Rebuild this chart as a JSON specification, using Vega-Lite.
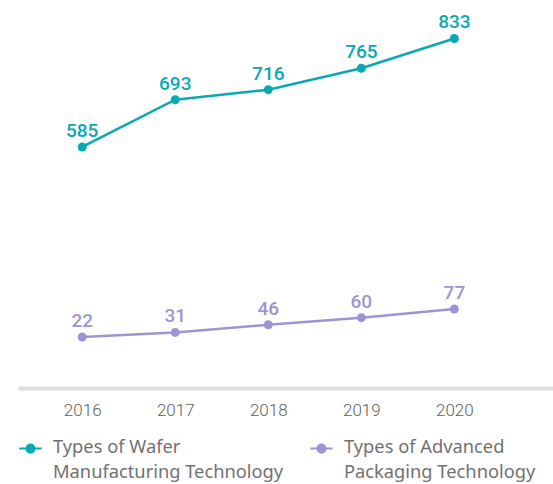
{
  "$schema": "https://vega.github.io/schema/vega-lite/v6.json",
  "width": 535,
  "height": 388,
  "autosize": "none",
  "padding": {"left": 18, "top": 0, "right": 0, "bottom": 96},
  "background": "white",
  "config": {
    "view": {"stroke": null},
    "style": {"guide-label": {"lineHeight": 25, "dy": -10}}
  },
  "data": {
    "values": [
      {"year": 2016, "series": "Wafer", "value": 585},
      {"year": 2017, "series": "Wafer", "value": 693},
      {"year": 2018, "series": "Wafer", "value": 716},
      {"year": 2019, "series": "Wafer", "value": 765},
      {"year": 2020, "series": "Wafer", "value": 833},
      {"year": 2016, "series": "Packaging", "value": 22},
      {"year": 2017, "series": "Packaging", "value": 31},
      {"year": 2018, "series": "Packaging", "value": 46},
      {"year": 2019, "series": "Packaging", "value": 60},
      {"year": 2020, "series": "Packaging", "value": 77}
    ]
  },
  "encoding": {
    "x": {
      "field": "year",
      "type": "quantitative",
      "scale": {"domain": [2015.31, 2021.06], "nice": false, "zero": false},
      "axis": {
        "title": null,
        "values": [2016, 2017, 2018, 2019, 2020],
        "format": "d",
        "grid": false,
        "ticks": false,
        "tickSize": 0,
        "domainColor": "#dcdddd",
        "domainWidth": 4,
        "labelPadding": 24,
        "labelFont": "Roboto",
        "labelFontSize": 17,
        "labelColor": "#5f5f5f",
        "labelFontWeight": 300
      }
    },
    "color": {
      "field": "series",
      "type": "nominal",
      "scale": {"domain": ["Wafer", "Packaging"], "range": ["#0aa8b5", "#9d95d3"]},
      "legend": {
        "orient": "none",
        "legendX": 0,
        "legendY": 436,
        "direction": "horizontal",
        "columns": 2,
        "columnPadding": 22,
        "title": null,
        "symbolType": "M-1,0L1,0M-0.36,0A0.36,0.36,0,1,0,0.36,0A0.36,0.36,0,1,0,-0.36,0Z",
        "symbolSize": 500,
        "symbolStrokeWidth": 2,
        "labelExpr": "datum.value == 'Wafer' ? ['Types of Wafer', 'Manufacturing Technology'] : ['Types of Advanced', 'Packaging Technology']",
        "labelFont": "Noto Sans",
        "labelFontSize": 18.3,
        "labelColor": "#727171",
        "labelLimit": 400,
        "labelOffset": 10,
        "labelBaseline": "top"
      }
    }
  },
  "layer": [
    {
      "transform": [{"filter": "datum.series == 'Wafer'"}],
      "encoding": {
        "y": {
          "field": "value",
          "type": "quantitative",
          "scale": {"domain": [34.2, 920.9], "nice": false, "zero": false},
          "axis": null
        }
      },
      "layer": [
        {"mark": {"type": "line", "strokeWidth": 2.5}},
        {"mark": {"type": "point", "filled": true, "size": 80, "opacity": 1}},
        {
          "mark": {"type": "text", "dy": -10, "baseline": "alphabetic", "font": "Roboto", "fontSize": 19, "fontWeight": 500},
          "encoding": {"text": {"field": "value", "type": "quantitative"}}
        }
      ]
    },
    {
      "transform": [{"filter": "datum.series == 'Packaging'"}],
      "encoding": {
        "y": {
          "field": "value",
          "type": "quantitative",
          "scale": {"domain": [-78.2, 684.1], "nice": false, "zero": false},
          "axis": null
        }
      },
      "layer": [
        {"mark": {"type": "line", "strokeWidth": 2.5}},
        {"mark": {"type": "point", "filled": true, "size": 80, "opacity": 1}},
        {
          "mark": {"type": "text", "dy": -10, "baseline": "alphabetic", "font": "Roboto", "fontSize": 19, "fontWeight": 500},
          "encoding": {"text": {"field": "value", "type": "quantitative"}}
        }
      ]
    }
  ],
  "resolve": {"scale": {"y": "independent"}}
}
